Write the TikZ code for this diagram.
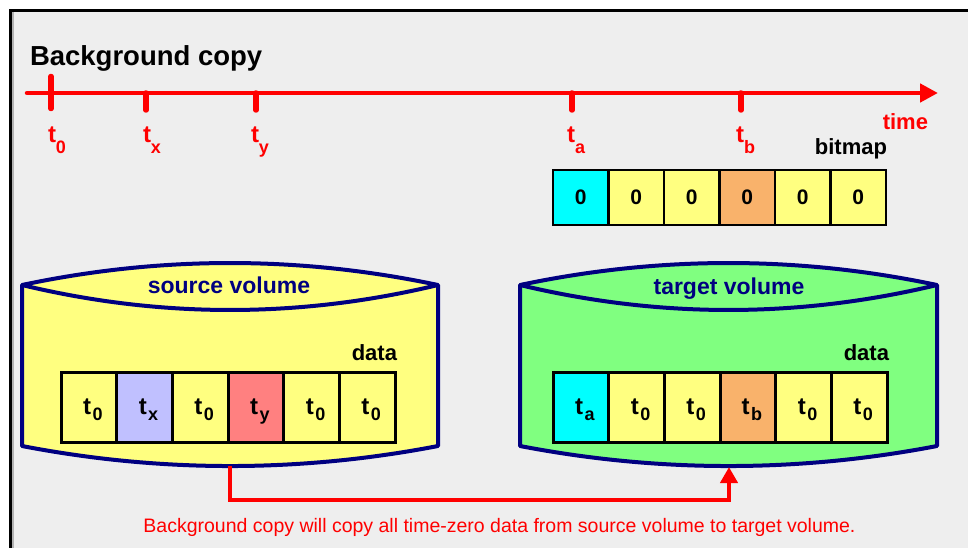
\documentclass[tikz,border=0pt]{standalone}
\usepackage{fontspec}
\setmainfont{Liberation Sans}
\usetikzlibrary{arrows.meta}

\definecolor{pagebg}{HTML}{EEEEEE}
\definecolor{navy}{HTML}{000080}
\definecolor{tred}{HTML}{FF0000}
\definecolor{cyellow}{HTML}{FFFF80}
\definecolor{ccyan}{HTML}{00FFFF}
\definecolor{corange}{HTML}{F9B26B}
\definecolor{clav}{HTML}{C0C0FF}
\definecolor{csalmon}{HTML}{FF8080}
\definecolor{srcfill}{HTML}{FFFF80}
\definecolor{tgtfill}{HTML}{80FF80}

\newcommand\setfs[1]{\fontsize{#1}{#1}\selectfont}
% time label on the axis: large t with a lowered index
\newcommand\ticklab[1]{{\setfs{24}t}\raisebox{-10pt}{\setfs{18}#1}}
% time stamp inside a data block
\newcommand\celllab[1]{{\setfs{24}t}\hspace{1.5pt}\raisebox{-6pt}{\setfs{18}#1}}

\tikzset{
  txt/.style={inner sep=0pt, outer sep=0pt},
  bitcell/.style={draw=black, line width=2.2pt, minimum width=55.5pt, minimum height=55pt,
    inner sep=0pt, font=\setfs{21}\bfseries},
  datacell/.style={draw=black, line width=3pt, minimum width=55.67pt, minimum height=70pt,
    inner sep=0pt, font=\bfseries, text depth=0pt},
  axis/.style={draw=tred, line width=4.5pt, line cap=round,
    -{Triangle[length=18pt,width=18pt]}},
  tick/.style={draw=tred, line width=5.5pt, line cap=round},
  vol/.style={draw=navy, line width=4pt, line join=round},
  conn/.style={draw=tred, line width=4pt, -{Triangle[length=16pt,width=17pt]}},
}

\begin{document}
\begin{tikzpicture}[x=1pt, y=-1pt]
\useasboundingbox (0,0) rectangle (968,548);

% slide area and its frame
\fill[white] (0,0) rectangle (968,548);
\fill[pagebg] (10,10) rectangle (968,548);
\draw[black!30, line width=2pt] (13,12) -- (13,548);
\draw[black, line width=2.4pt] (10.5,548) -- (10.5,10.5) -- (968,10.5);

% title
\node[txt, anchor=base west, font=\setfs{27.5}\bfseries] (title) at (30,66) {Background copy};

% time axis
\coordinate (axstart) at (27,93);
\coordinate (axend) at (938,93);
\draw[axis] (axstart) -- (axend);
\node[txt, anchor=base east, font=\setfs{22}\bfseries, text=tred] (timelab) at (928,130) {time};

\draw[tick] (51,76.5) -- (51,108.5);
\foreach \x in {146,256,572,741} \draw[tick] (\x,93) -- (\x,110);

\begin{scope}[every node/.style={txt, anchor=base west, font=\bfseries, text=tred}]
  \node (lt0) at (48,143) {\ticklab{0}};
  \node (ltx) at (143,143) {\ticklab{x}};
  \node (lty) at (251,143) {\ticklab{y}};
  \node (lta) at (567,143) {\ticklab{a}};
  \node (ltb) at (736,143) {\ticklab{b}};
\end{scope}

% bitmap
\node[txt, anchor=base east, font=\setfs{22}\bfseries] (bitmaplab) at (887,155) {bitmap};
\foreach \col [count=\i] in {ccyan,cyellow,cyellow,corange,cyellow,cyellow}
  \node[bitcell, fill=\col] (bit\i) at ({553+55.5*(\i-0.5)},197.5) {0};

% source volume
\draw[vol, fill=srcfill]
  (22,285) .. controls (160.7,255.7) and (299.3,255.7) .. (438,285)
  -- (438,446) .. controls (299.3,472.7) and (160.7,472.7) .. (22,446) -- cycle;
\draw[vol] (22,285) .. controls (160.7,318.3) and (299.3,318.3) .. (438,285);
\node[txt, anchor=base, font=\setfs{23}\bfseries, text=navy] (srclab) at (229,293) {source volume};
\node[txt, anchor=base east, font=\setfs{22}\bfseries] (srcdata) at (397,360) {data};
\foreach \col/\lab [count=\i] in {cyellow/0,clav/x,cyellow/0,csalmon/y,cyellow/0,cyellow/0}
  \node[datacell, fill=\col] (src\i) at ({61+55.67*(\i-0.5)},407)
    {\hspace{8pt}\celllab{\lab}};

% target volume
\draw[vol, fill=tgtfill]
  (520,285) .. controls (659,255.7) and (798,255.7) .. (937,285)
  -- (937,446) .. controls (798,472.7) and (659,472.7) .. (520,446) -- cycle;
\draw[vol] (520,285) .. controls (659,318.3) and (798,318.3) .. (937,285);
\node[txt, anchor=base, font=\setfs{23}\bfseries, text=navy] (tgtlab) at (729,294) {target volume};
\node[txt, anchor=base east, font=\setfs{22}\bfseries] (tgtdata) at (889,360) {data};
\foreach \col/\lab [count=\i] in {ccyan/a,cyellow/0,cyellow/0,corange/b,cyellow/0,cyellow/0}
  \node[datacell, fill=\col] (tgt\i) at ({553+55.67*(\i-0.5)},407)
    {\hspace{8pt}\celllab{\lab}};

% copy path from source to target
\coordinate (srcbot) at (230,466);
\coordinate (tgtbot) at (729,467);
\coordinate (via) at (0,500);
\draw[conn] (srcbot) -- (srcbot |- via) -- (tgtbot |- via) -- (tgtbot);

\node[txt, anchor=base, font=\setfs{19.5}, text=tred] (caption) at (499.5,532)
  {Background copy will copy all time-zero data from source volume to target volume.};
\end{tikzpicture}
\end{document}
